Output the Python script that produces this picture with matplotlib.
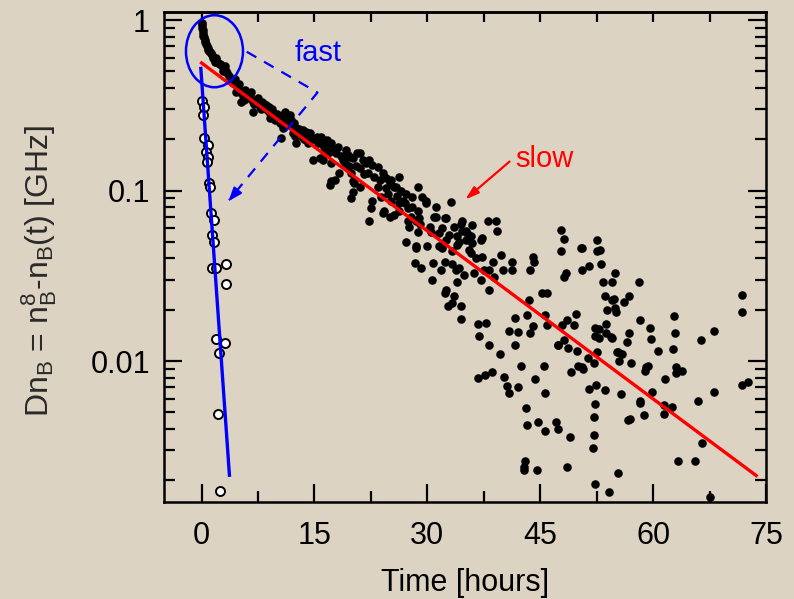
import matplotlib
matplotlib.use('Agg')
import matplotlib.pyplot as plt
from matplotlib.patches import Ellipse
from matplotlib.ticker import LogLocator, NullFormatter, FixedLocator
import numpy as np

plt.rcParams['font.family'] = ['Liberation Sans', 'DejaVu Sans']
plt.rcParams['mathtext.fontset'] = 'custom'
plt.rcParams['mathtext.rm'] = 'Liberation Sans'
plt.rcParams['mathtext.it'] = 'Liberation Sans:italic'

BG = '#dcd3c2'

# slow component (filled dots): time [h], shift [GHz]
t_early = [0.0, 0.05, 0.1, 0.15, 0.2, 0.25, 0.3, 0.4, 0.5, 0.6, 0.7, 0.8, 0.9, 1.0, 1.1, 1.2,
           1.35, 1.5, 1.65, 1.8, 2.0, 2.2, 2.4, 2.6, 2.8, 3.0, 3.2, 3.4, 3.6, 3.8, 4.0, 4.2,
           4.5, 3.1, 2.9, 1.9, 4.4]
y_early = [0.96, 0.93, 0.90, 0.87, 0.84, 0.81, 0.79, 0.76, 0.74, 0.72, 0.70, 0.69, 0.67, 0.66,
           0.65, 0.64, 0.62, 0.60, 0.59, 0.57, 0.565, 0.56, 0.55, 0.545, 0.53, 0.52, 0.50, 0.49,
           0.47, 0.46, 0.44, 0.43, 0.42, 0.54, 0.50, 0.60, 0.45]

t_mid = [4.8, 5.1, 5.3, 5.5, 5.8, 6.0, 6.4, 6.8, 6.8, 7.3, 7.5, 7.7, 8.0, 8.6, 8.6, 9.0, 9.1,
         9.5, 10.0, 10.6, 10.8, 10.8, 11.1, 11.4, 11.7, 11.7, 12.1, 12.3, 12.6, 12.6, 13.0, 13.5,
         13.9, 13.9, 14.4, 14.8, 15.0, 15.3, 15.7, 15.9, 16.1, 16.1, 16.1, 16.6, 17.0,
         17.0, 17.2, 17.2, 17.2, 17.7, 17.9, 18.1, 18.3, 18.8, 19.2, 19.4, 19.7, 19.9, 19.9,
         20.1, 20.1, 20.1, 20.3, 20.7, 21.0, 21.0, 21.0, 21.4, 21.9, 22.1, 22.3, 22.3, 22.5,
         22.7, 22.7, 23.4, 23.4, 23.9, 24.1, 24.1, 24.3, 24.5, 24.5, 25.0, 25.0, 25.2, 25.2,
         25.6, 25.6, 25.9, 26.3, 26.3, 26.3, 26.5, 26.7, 27.2, 27.2, 27.4, 27.4, 27.6, 28.0,
         28.0, 28.5, 28.5, 28.5, 28.7, 28.7, 28.7, 28.9, 28.3, 29.2, 29.3, 29.8, 29.8, 30.0,
         30.3, 30.6, 30.7, 30.9, 31.2, 31.2, 31.6, 31.6, 32.3, 32.5, 32.5, 33.1, 33.6, 34.0,
         34.5, 34.6, 34.6, 35.1, 35.1,
         4.6, 5.0, 5.6, 6.2, 6.6, 7.0, 7.9, 8.3, 8.9, 9.3, 9.8, 10.3, 10.4, 11.0, 11.9, 12.4,
         13.2, 13.6, 14.2, 14.6, 15.5, 16.3, 16.8, 17.5, 18.5, 19.0, 19.6, 20.5, 21.6, 22.9,
         23.7, 24.8, 26.0, 27.0, 27.8, 29.0, 30.5, 31.9, 32.9, 33.9, 35.5]
y_mid = [0.40, 0.38, 0.33, 0.36, 0.39, 0.37, 0.36, 0.29, 0.33, 0.34, 0.35, 0.31, 0.33, 0.30,
         0.317, 0.31, 0.266, 0.285, 0.28, 0.203, 0.233, 0.277, 0.29, 0.26, 0.242, 0.277, 0.217,
         0.25, 0.19, 0.233, 0.23, 0.227, 0.198, 0.22, 0.217, 0.151, 0.20, 0.207, 0.155, 0.207,
         0.151, 0.185, 0.198, 0.198, 0.18,
         0.108, 0.19, 0.145, 0.113, 0.115, 0.166, 0.18, 0.127, 0.151, 0.173, 0.162, 0.158,
         0.127, 0.09, 0.155, 0.113, 0.098, 0.11, 0.167, 0.166, 0.136, 0.105, 0.151, 0.145,
         0.127, 0.151, 0.066, 0.079, 0.141, 0.087, 0.138, 0.105, 0.092, 0.127, 0.074, 0.076,
         0.118, 0.103, 0.11, 0.07, 0.115, 0.087, 0.105, 0.072, 0.105, 0.12, 0.084, 0.076, 0.10,
         0.087, 0.096, 0.05, 0.079, 0.066, 0.061, 0.092, 0.08, 0.0667, 0.047, 0.046, 0.105,
         0.076, 0.057, 0.069, 0.0374, 0.035, 0.092, 0.084, 0.087, 0.047, 0.061, 0.030, 0.0374,
         0.07, 0.08, 0.07, 0.056, 0.047, 0.025, 0.069, 0.051, 0.086, 0.061, 0.054, 0.064, 0.066,
         0.058, 0.051, 0.058,
         0.38, 0.42, 0.34, 0.35, 0.38, 0.32, 0.30, 0.32, 0.29, 0.30, 0.26, 0.27, 0.25, 0.25,
         0.26, 0.21, 0.21, 0.20, 0.19, 0.20, 0.19, 0.17, 0.165, 0.17, 0.16, 0.145, 0.14, 0.14,
         0.125, 0.12, 0.115, 0.095, 0.093, 0.085, 0.07, 0.064, 0.057, 0.06, 0.055, 0.048, 0.045]

t_late = [32.3, 36.0, 35.3, 35.8, 34.2, 36.0, 37.1, 38.0, 39.1, 39.3, 32.0, 33.3, 35.8, 37.3,
          38.7, 39.8, 36.5, 32.3, 33.3, 34.2, 31.8, 33.8, 34.9, 36.2, 37.5, 38.2, 38.9, 40.0,
          41.3, 41.3, 44.0, 44.2, 43.7, 37.1, 38.2, 34.0, 32.5, 33.6, 33.3, 32.7, 34.5, 34.5,
          36.7, 37.8, 36.9, 38.2, 41.7, 40.9, 42.0, 41.7, 43.5, 43.3, 44.0, 43.6, 45.9, 45.7,
          45.9, 47.7, 47.7, 48.1, 48.1, 48.4, 50.5, 50.6, 51.5, 52.6, 48.6, 49.7, 49.5, 47.9,
          47.3, 48.1, 52.3, 52.3, 37.3, 35.6,
          39.7, 36.7, 37.6, 38.6, 40.2, 40.6, 40.9, 42.1, 42.4, 44.3, 45.5, 45.6, 43.1, 43.2,
          44.7, 45.6, 47.1, 47.3, 48.9, 43.0, 42.8, 42.8, 44.6, 48.5, 47.4, 48.7, 49.9, 49.1,
          50.0, 50.7, 51.3, 52.2, 51.5, 52.4, 52.3, 52.1, 52.1, 52.0, 52.3]
y_late = [0.069, 0.063, 0.056, 0.054, 0.05, 0.049, 0.051, 0.066, 0.066, 0.058, 0.046, 0.044,
          0.043, 0.041, 0.038, 0.042, 0.04, 0.038, 0.037, 0.035, 0.034, 0.034, 0.032, 0.033,
          0.034, 0.034, 0.031, 0.034, 0.038, 0.034, 0.041, 0.038, 0.034, 0.030, 0.026, 0.029,
          0.026, 0.024, 0.022, 0.021, 0.021, 0.0176, 0.0166, 0.0167, 0.014, 0.0124, 0.018,
          0.015, 0.0149, 0.0125, 0.0227, 0.0187, 0.0161, 0.0147, 0.025, 0.0187, 0.0163, 0.044,
          0.059, 0.052, 0.031, 0.033, 0.046, 0.034, 0.036, 0.044, 0.0173, 0.019, 0.0163, 0.0163,
          0.0124, 0.0132, 0.0156, 0.014, 0.053, 0.051,
          0.011, 0.0080, 0.0083, 0.0086, 0.0081, 0.0071, 0.0065, 0.0070, 0.0094, 0.0078, 0.0094,
          0.0065, 0.0053, 0.0042, 0.0044, 0.0039, 0.0044, 0.0040, 0.0036, 0.0026, 0.0024,
          0.0023, 0.0023, 0.0024, 0.0124, 0.012, 0.0114, 0.0086, 0.0093, 0.009, 0.0104, 0.0098,
          0.0069, 0.0072, 0.0056, 0.0047, 0.0037, 0.0031, 0.0019]

t_tail = [52.6, 53.0, 53.1, 53.4, 53.6, 53.9, 53.8, 52.8, 52.8, 55.0, 54.5, 55.1, 56.1, 56.8,
          58.1, 54.5, 55.4, 56.5, 56.8, 58.2, 59.6, 59.7, 60.7, 62.6, 62.8, 62.9, 59.1, 63.1,
          63.8, 61.6, 59.8, 58.8, 58.3, 61.5, 62.5, 66.0, 66.4, 68.1, 68.1, 66.5, 63.3, 65.6,
          55.4, 54.1, 67.6, 71.8, 71.8, 71.8, 72.6, 50.4, 45.3, 50.5, 53.6, 56.9,
          54.6, 54.8, 54.9, 53.7, 54.4, 52.6, 55.2, 55.9, 55.5, 57.0, 59.3, 58.9, 63.0, 55.7,
          58.3, 56.6, 61.5]
y_tail = [0.051, 0.0445, 0.037, 0.029, 0.024, 0.020, 0.0166, 0.0154, 0.0136, 0.0327, 0.0227,
          0.0194, 0.0223, 0.024, 0.029, 0.0136, 0.0113, 0.013, 0.0147, 0.0173, 0.0156, 0.0134,
          0.0115, 0.0118, 0.0184, 0.0147, 0.0092, 0.0092, 0.0088, 0.0079, 0.0066, 0.0048,
          0.0058, 0.0055, 0.0054, 0.0058, 0.0133, 0.0151, 0.0066, 0.0033, 0.0026, 0.0026,
          0.0022, 0.0017, 0.0016, 0.0244, 0.0194, 0.0072, 0.0075, 0.046, 0.025, 0.0092, 0.0068,
          0.0046,
          0.029, 0.023, 0.0204, 0.0147, 0.0138, 0.0113, 0.0113, 0.011, 0.0100, 0.0098, 0.0093,
          0.0088, 0.0085, 0.0064, 0.0057, 0.0045, 0.0049]

# fast component (open circles)
t_fast = [0.11, 0.33, 0.24, 0.37, 0.9, 0.56, 0.9, 0.69, 1.0, 1.13, 1.26, 1.7, 1.35, 1.6,
          1.43, 1.92, 3.24, 3.3, 1.88, 3.1, 2.3, 2.2, 2.5]
y_fast = [0.335, 0.31, 0.277, 0.202, 0.185, 0.169, 0.158, 0.147, 0.110, 0.105, 0.0737,
          0.067, 0.0549, 0.0497, 0.0353, 0.0353, 0.037, 0.0283, 0.0134, 0.0127, 0.0112,
          0.0049, 0.00173]

# exponential fits (end points of straight lines on the log axis)
fast_fit_t = [-0.1, 3.7]
fast_fit_y = [0.52, 0.00214]
slow_fit_t = [0.0, 73.7]
slow_fit_y = [0.56, 0.00213]

t_slow = np.array(t_early + t_mid + t_late + t_tail)
y_slow = np.array(y_early + y_mid + y_late + y_tail)

fig = plt.figure(figsize=(7.94, 5.99), dpi=100, facecolor=BG)
ax = fig.add_axes([0.2065, 0.1619, 0.7582, 0.818])
ax.set_facecolor(BG)

ax.scatter(t_slow, y_slow, s=38, color='black', linewidths=0, zorder=3)
ax.scatter(t_fast, y_fast, s=42, facecolor='white', edgecolor='black', linewidths=1.4, zorder=4)
ax.plot(slow_fit_t, slow_fit_y, color='#ff0000', lw=2.4, zorder=5)
ax.plot(fast_fit_t, fast_fit_y, color='#0000ff', lw=2.4, zorder=5)

ax.set_yscale('log')
ax.set_xlim(-5, 75)
ax.set_ylim(0.00149, 1.114)

ax.set_xticks([0, 15, 30, 45, 60, 75])
ax.xaxis.set_minor_locator(FixedLocator([7.5, 22.5, 37.5, 52.5, 67.5]))
ax.set_yticks([0.01, 0.1, 1], ['0.01', '0.1', '1'])
ax.yaxis.set_minor_locator(LogLocator(base=10, subs=np.arange(2, 10), numticks=20))
ax.yaxis.set_minor_formatter(NullFormatter())

ax.tick_params(which='major', direction='in', length=13, width=1.6, labelsize=22,
               right=True, top=False, pad=10)
ax.tick_params(which='minor', direction='in', length=8, width=1.6, right=True, top=False)
ax.tick_params(axis='x', which='major', pad=14)

top = ax.secondary_xaxis('top')
top.set_xticks(np.arange(0, 76, 7.5))
top.tick_params(direction='in', length=7, width=1.6, labeltop=False)
top.set_xticklabels([])
top.spines['top'].set_linewidth(1.8)

for s in ax.spines.values():
    s.set_linewidth(1.8)

ax.set_xlabel('Time [hours]', fontsize=22, labelpad=12)
ax.set_ylabel('Dn$_\\mathrm{B}$ = n$_\\mathrm{B}^\\mathrm{8}$-n$_\\mathrm{B}$(t) [GHz]',
              fontsize=23, color='#2a2a2a')
ax.yaxis.set_label_coords(-0.175, 0.473)

# annotations (axes-fraction placement)
ax.add_patch(Ellipse((0.0839, 0.920), 0.0947, 0.147, transform=ax.transAxes,
                     fill=False, edgecolor='#0000ff', lw=1.8, zorder=6))
ax.plot([0.1374, 0.255, 0.108], [0.919, 0.8357, 0.616], transform=ax.transAxes,
        color='#0000ff', lw=1.6, ls=(0, (5, 4)), zorder=6)
ax.annotate('', xy=(0.1042, 0.6096), xytext=(0.125, 0.64), xycoords='axes fraction',
            arrowprops=dict(arrowstyle='-|>,head_length=0.8,head_width=0.3',
                            color='#0000ff', lw=1.6), zorder=6)
ax.text(0.2176, 0.9163, 'fast', transform=ax.transAxes, color='#0000ff', fontsize=21,
        ha='left', va='center')

ax.annotate('', xy=(0.497, 0.6137), xytext=(0.5776, 0.6986), xycoords='axes fraction',
            arrowprops=dict(arrowstyle='-|>,head_length=0.8,head_width=0.25',
                            color='#ff0000', lw=1.6), zorder=6)
ax.text(0.583, 0.700, 'slow', transform=ax.transAxes, color='#ff0000', fontsize=21,
        ha='left', va='center')

fig.savefig('out.png', dpi=100, facecolor=BG)
